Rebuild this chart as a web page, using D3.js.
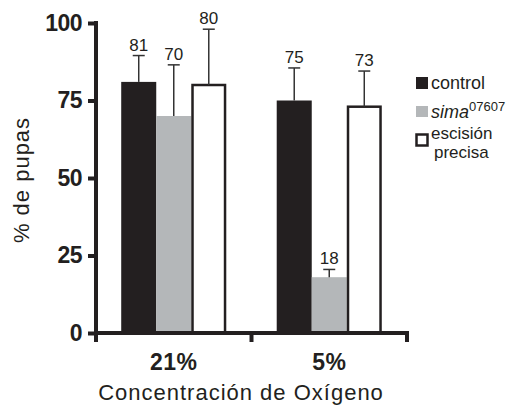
<!DOCTYPE html>
<html>
<head>
<meta charset="utf-8">
<script src="https://cdn.jsdelivr.net/npm/d3@7"></script>
<style>
  body { margin: 0; background: #fff; }
  svg { display: block; font-family: "Liberation Sans", Arial, sans-serif; }
</style>
</head>
<body>
<svg id="chart" width="514" height="407"></svg>
<script>
// data
const groups = ['21%', '5%'];
const series = ['control', 'sima', 'precisa'];
const values21 = [81, 70, 80];
const values5 = [75, 18, 73];
const errTop21 = [89.5, 86.5, 98];
const errTop5 = [85.5, 20.5, 84.5];
const yTicks = [0, 25, 50, 75, 100];

const rows = [];
groups.forEach((g, gi) => {
  const vals = gi === 0 ? values21 : values5;
  const errs = gi === 0 ? errTop21 : errTop5;
  series.forEach((s, si) => rows.push({ group: g, key: s, value: vals[si], err: errs[si] }));
});

const ink = '#231f20';
const fills = { control: '#231f20', sima: '#b4b7b9', precisa: '#ffffff' };

const $svg = d3.select('#chart');
const plotLeft = 96, plotRight = 407, plotTop = 23, plotBottom = 333;

const y = d3.scaleLinear().domain([0, 100]).range([plotBottom, plotTop]);
const x0 = d3.scaleBand().domain(groups).range([plotLeft, plotRight]);
const x1 = d3.scaleBand().domain(series).range([0, x0.bandwidth()]).paddingOuter(0.72);

// bars
const $bars = $svg.append('g').attr('class', 'bars');
$bars.selectAll('rect')
  .data(rows)
  .enter()
  .append('rect')
  .attr('x', d => x0(d.group) + x1(d.key) + (d.key === 'precisa' ? 1.25 : 0))
  .attr('width', d => x1.bandwidth() - (d.key === 'precisa' ? 2.5 : 0))
  .attr('y', d => y(d.value))
  .attr('height', d => y(0) - y(d.value))
  .attr('fill', d => fills[d.key])
  .attr('stroke', d => d.key === 'precisa' ? ink : 'none')
  .attr('stroke-width', 2.5);

// error bars
const $err = $svg.append('g').attr('class', 'errors')
  .attr('stroke', '#333').attr('stroke-width', 1.5);
rows.forEach(d => {
  const cx = x0(d.group) + x1(d.key) + x1.bandwidth() / 2;
  $err.append('line').attr('x1', cx).attr('x2', cx).attr('y1', y(d.value)).attr('y2', y(d.err));
  $err.append('line').attr('x1', cx - 6).attr('x2', cx + 6).attr('y1', y(d.err)).attr('y2', y(d.err));
});

// value labels
$svg.append('g').selectAll('text')
  .data(rows)
  .enter()
  .append('text')
  .attr('x', d => x0(d.group) + x1(d.key) + x1.bandwidth() / 2)
  .attr('y', d => y(d.err) - 5)
  .attr('text-anchor', 'middle')
  .attr('font-size', 17)
  .attr('fill', ink)
  .text(d => d.value);

// y axis
const yAxis = d3.axisLeft(y).tickValues(yTicks).tickSize(8).tickSizeOuter(0).tickPadding(6);
const $ya = $svg.append('g').attr('transform', `translate(${plotLeft},0)`).call(yAxis);
$ya.select('.domain').attr('stroke', ink).attr('stroke-width', 4)
  .attr('d', `M0,${plotTop - 2}V${plotBottom + 2}`);
$ya.selectAll('.tick line').attr('stroke', ink).attr('stroke-width', 4);
$ya.selectAll('.tick text')
  .attr('fill', ink)
  .attr('font-size', 23)
  .attr('font-weight', 'bold')
  .attr('letter-spacing', -0.5)
  .attr('font-family', '"Liberation Sans", Arial, sans-serif');

// x axis
const xEdges = [plotLeft].concat(groups.map(g => x0(g) + x0.bandwidth()));
const $xa = $svg.append('g').attr('class', 'x-axis');
$xa.append('line')
  .attr('x1', plotLeft - 2).attr('x2', plotRight + 2)
  .attr('y1', plotBottom).attr('y2', plotBottom)
  .attr('stroke', ink).attr('stroke-width', 4);
$xa.selectAll('.xt')
  .data(xEdges)
  .enter()
  .append('line')
  .attr('x1', d => d).attr('x2', d => d)
  .attr('y1', plotBottom).attr('y2', plotBottom + 9)
  .attr('stroke', ink).attr('stroke-width', 4);
$xa.selectAll('text')
  .data(groups)
  .enter()
  .append('text')
  .attr('x', d => x0(d) + x0.bandwidth() / 2)
  .attr('y', 370)
  .attr('text-anchor', 'middle')
  .attr('font-size', 23)
  .attr('font-weight', 'bold')
  .attr('letter-spacing', 0.5)
  .attr('fill', ink)
  .text(d => d);

// axis titles
$svg.append('text')
  .attr('x', 241).attr('y', 400)
  .attr('text-anchor', 'middle')
  .attr('font-size', 22)
  .attr('letter-spacing', 1)
  .attr('fill', ink)
  .text('Concentración de Oxígeno');

$svg.append('text')
  .attr('transform', 'translate(29,180) rotate(-90)')
  .attr('text-anchor', 'middle')
  .attr('font-size', 22)
  .attr('letter-spacing', 1)
  .attr('fill', ink)
  .text('% de pupas');

// legend
const $leg = $svg.append('g').attr('class', 'legend').attr('fill', ink);
$leg.append('rect').attr('x', 416).attr('y', 77).attr('width', 12).attr('height', 12).attr('fill', fills.control);
$leg.append('text').attr('x', 431).attr('y', 89).attr('font-size', 18).text('control');

$leg.append('rect').attr('x', 416).attr('y', 106).attr('width', 12).attr('height', 11).attr('fill', fills.sima);
const $sima = $leg.append('text').attr('x', 431).attr('y', 118).attr('font-size', 18);
$sima.append('tspan').attr('font-style', 'italic').text('sima');
$sima.append('tspan').attr('font-size', 13).attr('dy', -7).text('07607');

$leg.append('rect').attr('x', 416.5).attr('y', 134.5).attr('width', 11).attr('height', 11)
  .attr('fill', '#fff').attr('stroke', ink).attr('stroke-width', 2.5);
$leg.append('text').attr('x', 431).attr('y', 139).attr('font-size', 17).text('escisión');
$leg.append('text').attr('x', 434).attr('y', 158).attr('font-size', 17).text('precisa');
</script>
</body>
</html>
